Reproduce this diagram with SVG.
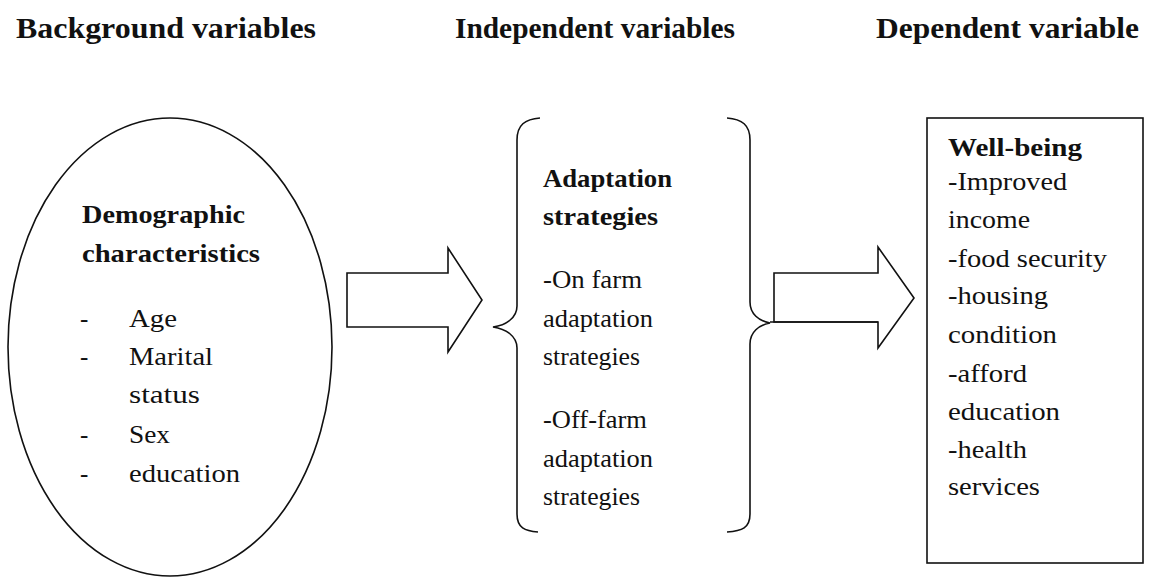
<svg xmlns="http://www.w3.org/2000/svg" width="1150" height="578" viewBox="0 0 1150 578">
  <style>
    .hdr { font-family: "Liberation Serif", "Times New Roman", serif; font-weight: bold; font-size: 30px; fill: #111; }
    .ttl { font-family: "Liberation Serif", "Times New Roman", serif; font-weight: bold; font-size: 26px; fill: #111; }
    .txt { font-family: "Liberation Serif", "Times New Roman", serif; font-size: 25px; fill: #111; }
    .shape { fill: #fff; stroke: #111; stroke-width: 1.6; }
    .line { fill: none; stroke: #111; stroke-width: 1.6; }
  </style>
  <rect width="1150" height="578" fill="#fff"/>

  <!-- column headings -->
  <g id="headings">
    <text class="hdr" x="16" y="38" textLength="300" lengthAdjust="spacingAndGlyphs">Background variables</text>
    <text class="hdr" x="455" y="38" textLength="280" lengthAdjust="spacingAndGlyphs">Independent variables</text>
    <text class="hdr" x="876" y="38" textLength="263" lengthAdjust="spacingAndGlyphs">Dependent variable</text>
  </g>

  <!-- background variables -->
  <g id="background">
    <ellipse class="shape" cx="170" cy="347" rx="162" ry="229"/>
    <text class="ttl" x="82" y="223" textLength="163" lengthAdjust="spacingAndGlyphs">Demographic</text>
    <text class="ttl" x="82" y="262" textLength="178" lengthAdjust="spacingAndGlyphs">characteristics</text>
    <g class="txt">
      <text x="80" y="327">-</text>
      <text x="129" y="327" textLength="48" lengthAdjust="spacingAndGlyphs">Age</text>
      <text x="80" y="365">-</text>
      <text x="129" y="365" textLength="84" lengthAdjust="spacingAndGlyphs">Marital</text>
      <text x="129" y="403" textLength="71" lengthAdjust="spacingAndGlyphs">status</text>
      <text x="80" y="443">-</text>
      <text x="129" y="443" textLength="41" lengthAdjust="spacingAndGlyphs">Sex</text>
      <text x="80" y="482">-</text>
      <text x="129" y="482" textLength="111" lengthAdjust="spacingAndGlyphs">education</text>
    </g>
  </g>

  <!-- independent variables -->
  <g id="independent">
    <path class="line" d="M540,118 C525,119 517,125 517,140 V306 C517,318 506,325 493,327 C506,329 517,336 517,348 V514 C517,528 525,531 538,532"/>
    <path class="line" d="M727,118 C742,119 750,125 750,140 V302 C750,314 759,321 770,323 C759,325 750,332 750,344 V514 C750,528 742,531 727,532"/>
    <text class="ttl" x="543" y="187" textLength="129" lengthAdjust="spacingAndGlyphs">Adaptation</text>
    <text class="ttl" x="543" y="225" textLength="115" lengthAdjust="spacingAndGlyphs">strategies</text>
    <g class="txt">
      <text x="543" y="288" textLength="99" lengthAdjust="spacingAndGlyphs">-On farm</text>
      <text x="543" y="327" textLength="110" lengthAdjust="spacingAndGlyphs">adaptation</text>
      <text x="543" y="365" textLength="97" lengthAdjust="spacingAndGlyphs">strategies</text>
      <text x="543" y="428" textLength="104" lengthAdjust="spacingAndGlyphs">-Off-farm</text>
      <text x="543" y="467" textLength="110" lengthAdjust="spacingAndGlyphs">adaptation</text>
      <text x="543" y="505" textLength="97" lengthAdjust="spacingAndGlyphs">strategies</text>
    </g>
  </g>

  <!-- dependent variable -->
  <g id="dependent">
    <rect class="shape" x="927" y="118" width="216" height="445" stroke-width="2"/>
    <text class="ttl" x="948" y="156" textLength="134" lengthAdjust="spacingAndGlyphs">Well-being</text>
    <g class="txt">
      <text x="948" y="190" textLength="119" lengthAdjust="spacingAndGlyphs">-Improved</text>
      <text x="948" y="228" textLength="82" lengthAdjust="spacingAndGlyphs">income</text>
      <text x="948" y="267" textLength="159" lengthAdjust="spacingAndGlyphs">-food security</text>
      <text x="948" y="304" textLength="100" lengthAdjust="spacingAndGlyphs">-housing</text>
      <text x="948" y="343" textLength="109" lengthAdjust="spacingAndGlyphs">condition</text>
      <text x="948" y="382" textLength="79" lengthAdjust="spacingAndGlyphs">-afford</text>
      <text x="948" y="420" textLength="112" lengthAdjust="spacingAndGlyphs">education</text>
      <text x="948" y="458" textLength="79" lengthAdjust="spacingAndGlyphs">-health</text>
      <text x="948" y="495" textLength="92" lengthAdjust="spacingAndGlyphs">services</text>
    </g>
  </g>

  <!-- block arrows between the columns -->
  <g id="connectors">
    <path class="shape" d="M347,273 H448 V248 L482,300 L448,352 V327 H347 Z"/>
    <path class="shape" d="M774,322 V273 H878 V247 L914,298 L878,348 V322 Z"/>
    <path class="line" d="M770,322 H878"/>
  </g>
</svg>
